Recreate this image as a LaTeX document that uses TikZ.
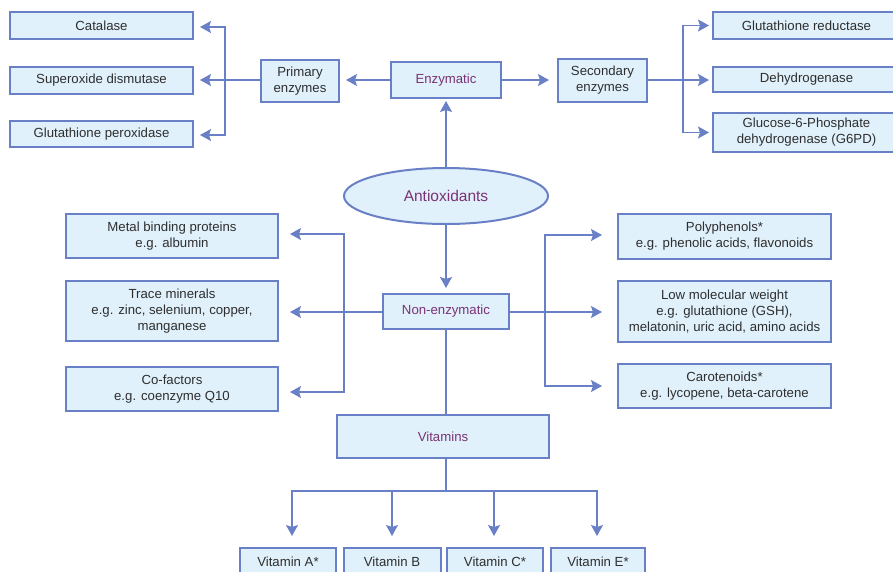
\documentclass[tikz,border=0pt]{standalone}
\usepackage{fontspec}
\setmainfont{Liberation Sans}
\usetikzlibrary{arrows.meta,shapes.geometric,calc}
\definecolor{edge}{HTML}{6A80C6}
\definecolor{boxfill}{HTML}{E0F1FB}
\definecolor{purp}{HTML}{7A3274}
\definecolor{txt}{HTML}{2E2E2E}
\tikzset{
  bx/.style={draw=edge,fill=boxfill,line width=2pt,inner sep=0pt,align=center,text=txt,font=\fontsize{13.2}{16}\selectfont},
  pbx/.style={bx,text=purp},
  conn/.style={draw=edge,line width=1.1pt},
  arr/.style={conn,-{Stealth[length=11pt,width=12pt,inset=2pt]}},
}
\begin{document}
\begin{tikzpicture}[x=1pt,y=-1pt]
\useasboundingbox (0,0) rectangle (893,571);
% top row
\node[bx,minimum width=183,minimum height=27] (cat) at (101.5,25.5) {Catalase};
\node[bx,minimum width=183,minimum height=27] (sod) at (101.5,80.5) {Superoxide dismutase};
\node[bx,minimum width=183,minimum height=26] (gpx) at (101.5,134) {Glutathione peroxidase};
\node[bx,minimum width=78,minimum height=42] (prim) at (300,81) {Primary\\enzymes};
\node[pbx,minimum width=110,minimum height=36] (enz) at (446,80) {Enzymatic};
\node[bx,minimum width=89,minimum height=43] (sec) at (602.5,80.5) {Secondary\\enzymes};
\node[bx,minimum width=187,minimum height=27] (gr) at (806.5,25.5) {Glutathione reductase};
\node[bx,minimum width=187,minimum height=25] (deh) at (806.5,79.5) {Dehydrogenase};
\node[bx,minimum width=187,minimum height=39] (g6pd) at (806.5,132.5) {Glucose-6-Phosphate\\dehydrogenase (G6PD)};
% centre
\node[draw=edge,fill=boxfill,line width=2pt,ellipse,minimum width=204,minimum height=56,inner sep=0pt,text=purp,font=\fontsize{15.5}{18}\selectfont] (anti) at (446,196) {Antioxidants};
\node[pbx,minimum width=126,minimum height=35] (nonenz) at (446,311.5) {Non-enzymatic};
% left middle
\node[bx,minimum width=212,minimum height=44] (metal) at (172,236) {Metal binding proteins\\e.g. albumin};
\node[bx,minimum width=212,minimum height=60] (trace) at (172,311) {Trace minerals\\e.g. zinc, selenium, copper,\\manganese};
\node[bx,minimum width=212,minimum height=44] (cofac) at (172,389) {Co-factors\\e.g. coenzyme Q10};
% right middle
\node[bx,minimum width=213,minimum height=45] (poly) at (724.5,236.5) {Polyphenols*\\e.g. phenolic acids, flavonoids};
\node[bx,minimum width=213,minimum height=61] (lmw) at (724.5,311.5) {Low molecular weight\\e.g. glutathione (GSH),\\melatonin, uric acid, amino acids};
\node[bx,minimum width=213,minimum height=44] (carot) at (724.5,386) {Carotenoids*\\e.g. lycopene, beta-carotene};
% vitamins
\node[pbx,minimum width=212,minimum height=43] (vit) at (443,436.5) {Vitamins};
\node[bx,minimum width=96,minimum height=28] (va) at (288,562) {Vitamin A*};
\node[bx,minimum width=97,minimum height=28] (vb) at (392,562) {Vitamin B};
\node[bx,minimum width=96,minimum height=28] (vc) at (495,562) {Vitamin C*};
\node[bx,minimum width=94,minimum height=28] (ve) at (598,562) {Vitamin E*};
% junctions
\coordinate (lj) at (225,80);
\coordinate (rj) at (683,80);
\coordinate (lj2) at (344,312);
\coordinate (rj2) at (545,312);
\coordinate (vj) at (446,491);
% connectors top
\draw[arr,shorten >=2pt] (anti.north) -- (enz.south);
\draw[arr,shorten >=6pt] (enz.west) -- (enz.west -| prim.east);
\draw[arr,shorten >=8pt] (enz.east) -- (enz.east -| sec.west);
\draw[arr,shorten >=6pt] (prim.west |- lj) -- (lj -| sod.east);
\draw[arr,shorten >=6pt] (lj) |- ([yshift=-1.5pt]cat.east);
\draw[arr,shorten >=6pt] (lj) |- ([yshift=-1pt]gpx.east);
\draw[arr,shorten >=3pt] (sec.east |- rj) -- (rj -| deh.west);
\draw[arr,shorten >=3pt] (rj) |- (gr.west);
\draw[arr,shorten >=3pt] (rj) |- (g6pd.west);
% connectors middle
\draw[arr,shorten >=5pt] (anti.south) -- (nonenz.north);
\draw[arr,shorten >=11pt] (nonenz.west |- lj2) -- (lj2 -| trace.east);
\draw[arr,shorten >=11pt] (lj2) |- ([yshift=2pt]metal.east);
\draw[arr,shorten >=11pt] (lj2) |- ([yshift=-3pt]cofac.east);
\draw[arr,shorten >=15pt] (nonenz.east |- rj2) -- (rj2 -| lmw.west);
\draw[arr,shorten >=15pt] (rj2) |- ([yshift=1.5pt]poly.west);
\draw[arr,shorten >=15pt] (rj2) |- (carot.west);
% vitamins
\draw[conn] (nonenz.south) -- (nonenz.south |- vit.north);
\draw[conn] (vj |- vit.south) -- (vj);
\draw[arr,shorten >=11pt] (vj) -| ([xshift=4pt]va.north);
\draw[arr,shorten >=11pt] (vj) -| (vb.north);
\draw[arr,shorten >=11pt] (vj) -| ([xshift=-1pt]vc.north);
\draw[arr,shorten >=11pt] (vj) -| ([xshift=-1pt]ve.north);
\end{tikzpicture}
\end{document}
